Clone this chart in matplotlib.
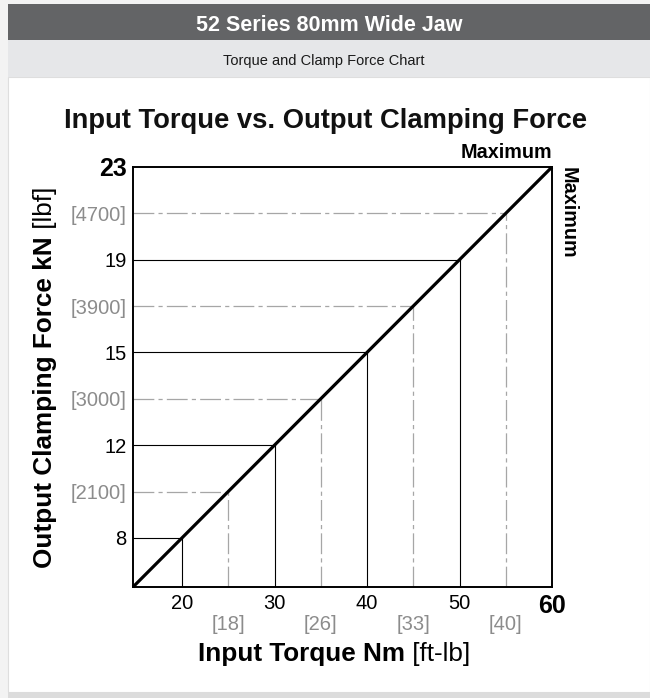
import numpy as np
import matplotlib
matplotlib.use('Agg')
import matplotlib.pyplot as plt
from matplotlib.patches import Rectangle

plt.rcParams['font.family'] = ['Liberation Sans', 'DejaVu Sans']
plt.rcParams['lines.scale_dashes'] = False

# ===== 数据 =====
torque_nm = [20, 30, 40, 50, 60]          # Nm
force_kn = [8, 12, 15, 19, 23]            # kN
torque_ftlb = [18, 26, 33, 40]            # ft-lb
force_lbf = [2100, 3000, 3900, 4700]      # lbf

# 图上位置：对角线 y = x，英制刻度在两条公制线之间
pos_metric = np.array(torque_nm, dtype=float)
pos_imperial = (pos_metric[:-1] + pos_metric[1:]) / 2
x0 = 14.7

W, H = 650, 698
fig = plt.figure(figsize=(W / 100, H / 100), dpi=100, facecolor='#f3f3f3')


def fxy(x, y):
    return x / W, 1 - y / H


def box(x1, y1, x2, y2, **kw):
    fig.patches.append(Rectangle(fxy(x1, y2), (x2 - x1) / W, (y2 - y1) / H,
                                 transform=fig.transFigure, zorder=-5, **kw))


# 背景面板
box(8, 77, 650, 692, fc='white', ec='#dedede', lw=0.8)
box(8, 692, 650, 698, fc='#dcdcdc', ec='none')
box(8, 4, 650, 40, fc='#636466', ec='none')
box(8, 40, 650, 77, fc='#e6e7e9', ec='none')

fig.text(*fxy(329, 31), '52 Series 80mm Wide Jaw', fontsize=15.5,
         weight='bold', color='white', ha='center', va='baseline')
fig.text(*fxy(324, 65), 'Torque and Clamp Force Chart', fontsize=10.5,
         color='#1a1a1a', ha='center', va='baseline')
fig.text(*fxy(326, 128), 'Input Torque vs. Output Clamping Force', fontsize=19.7,
         weight='bold', color='#111111', ha='center', va='baseline')

# ===== 主图 =====
ax = fig.add_axes([133 / W, 1 - 587 / H, 419 / W, 420 / H])
ax.set_xlim(x0, pos_metric[-1])
ax.set_ylim(x0, pos_metric[-1])
ax.set_facecolor('white')

for p in pos_metric[:-1]:
    ax.plot([x0, p], [p, p], color='black', lw=0.8)
    ax.plot([p, p], [x0, p], color='black', lw=0.8)
for p in pos_imperial:
    ax.plot([x0, p], [p, p], color='#a6a6a6', lw=0.9, ls=(0, (15, 3, 3, 3)))
    ax.plot([p, p], [x0, p], color='#a6a6a6', lw=0.9, ls=(0, (15, 3, 3, 3)))

ax.plot([x0, pos_metric[-1]], [x0, pos_metric[-1]], color='black', lw=2.3,
        solid_capstyle='butt', clip_on=False, zorder=5)

for s in ax.spines.values():
    s.set_linewidth(1.4)
    s.set_color('black')

ax.set_xticks(pos_metric, labels=[str(v) for v in torque_nm])
ax.set_xticks(pos_imperial, labels=[f'[{v}]' for v in torque_ftlb], minor=True)
ax.set_yticks(pos_metric, labels=[str(v) for v in force_kn])
ax.set_yticks(pos_imperial, labels=[f'[{v}]' for v in force_lbf], minor=True)

ax.tick_params(which='both', length=0, labelsize=14.5)
ax.tick_params(axis='x', which='major', pad=5)
ax.tick_params(axis='x', which='minor', pad=20, labelcolor='#8c8c8c')
ax.tick_params(axis='y', which='major', pad=4.5)
ax.tick_params(axis='y', which='minor', pad=4.5, labelcolor='#8c8c8c')

# 最大值刻度加粗
for lab in (ax.get_xticklabels()[-1], ax.get_yticklabels()[-1]):
    lab.set_fontsize(18)
    lab.set_fontweight('bold')

ax.annotate('Maximum', xy=(1, 1), xycoords='axes fraction', xytext=(0, 6.5),
            textcoords='offset points', ha='right', va='baseline',
            fontsize=14.2, weight='bold')
ax.annotate('Maximum', xy=(1, 1), xycoords='axes fraction', xytext=(8, 0),
            textcoords='offset points', ha='left', va='baseline', rotation=-90,
            rotation_mode='anchor', fontsize=14.2, weight='bold')

# 坐标轴标题：粗体单位 + 常规括号单位
xl1 = fig.text(*fxy(198, 661), 'Input Torque Nm', fontsize=18.8, weight='bold',
               ha='left', va='baseline')
yl1 = fig.text(*fxy(52, 568), 'Output Clamping Force kN', fontsize=18.8, weight='bold',
               ha='left', va='baseline', rotation=90, rotation_mode='anchor')
fig.canvas.draw()
bx = xl1.get_window_extent()
by = yl1.get_window_extent()
fig.text(bx.x1 / W, xl1.get_position()[1], ' [ft-lb]', fontsize=18.8,
         ha='left', va='baseline')
fig.text(yl1.get_position()[0], by.y1 / H, ' [lbf]', fontsize=18.8,
         ha='left', va='baseline', rotation=90, rotation_mode='anchor')

plt.savefig('out.png', dpi=100, facecolor=fig.get_facecolor())
